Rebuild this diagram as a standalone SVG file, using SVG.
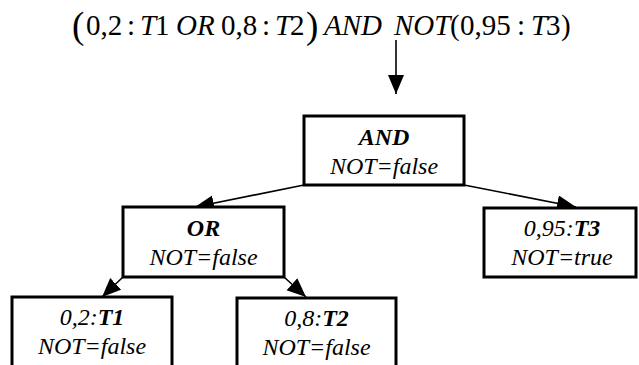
<svg xmlns="http://www.w3.org/2000/svg" width="639" height="365" viewBox="0 0 639 365">
<defs>
  <marker id="ah" markerUnits="userSpaceOnUse" markerWidth="20" markerHeight="18" refX="19" refY="8" orient="auto">
    <path d="M0,0 L19,8 L0,16 z" fill="#000"/>
  </marker>
</defs>
<rect width="639" height="365" fill="#fff"/>
<g id="formula" font-family="Liberation Serif" font-size="29" fill="#000">
  <text x="72" y="38" font-size="37">(</text>
  <text x="86" y="35">0,2</text>
  <text x="127" y="35">:</text>
  <text x="140" y="35" font-style="italic">T</text>
  <text x="155" y="35">1</text>
  <text x="176" y="35" font-style="italic">OR</text>
  <text x="221" y="35">0,8</text>
  <text x="262" y="35">:</text>
  <text x="275" y="35" font-style="italic">T</text>
  <text x="290" y="35">2</text>
  <text x="306" y="38" font-size="37">)</text>
  <text x="324" y="35" font-style="italic">AND</text>
  <text x="394" y="35" font-style="italic">NOT</text>
  <text x="450" y="35">(</text>
  <text x="460" y="35">0,95</text>
  <text x="517" y="35">:</text>
  <text x="531" y="35" font-style="italic">T</text>
  <text x="546" y="35">3</text>
  <text x="561" y="35">)</text>
</g>
<g id="connectors" stroke="#000" stroke-width="1.6" fill="none" marker-end="url(#ah)">
  <line x1="396" y1="40" x2="396" y2="94"/>
  <line x1="304" y1="185" x2="195" y2="207"/>
  <line x1="464" y1="185" x2="576" y2="207"/>
  <line x1="123" y1="277" x2="102" y2="297"/>
  <line x1="284" y1="277" x2="306" y2="297"/>
</g>
<g id="nodes" font-family="Liberation Serif" font-size="24" font-style="italic" text-anchor="middle">
<g id="node-and">
  <rect x="304" y="116" width="160" height="69" fill="#fff" stroke="#000" stroke-width="3"/>
  <text x="384" y="145" font-weight="bold">AND</text>
  <text x="384" y="174">NOT=false</text>
</g>
<g id="node-or">
  <rect x="123" y="207" width="161" height="70" fill="#fff" stroke="#000" stroke-width="3"/>
  <text x="203.5" y="236" font-weight="bold">OR</text>
  <text x="203.5" y="265">NOT=false</text>
</g>
<g id="node-t3">
  <rect x="484" y="208" width="152" height="69" fill="#fff" stroke="#000" stroke-width="3"/>
  <text x="562" y="236">0,95:<tspan font-weight="bold">T3</tspan></text>
  <text x="562" y="265">NOT=true</text>
</g>
<g id="node-t1">
  <rect x="12" y="297" width="160" height="70" fill="#fff" stroke="#000" stroke-width="3"/>
  <text x="92" y="325">0,2:<tspan font-weight="bold">T1</tspan></text>
  <text x="92" y="354">NOT=false</text>
</g>
<g id="node-t2">
  <rect x="237" y="298" width="159" height="70" fill="#fff" stroke="#000" stroke-width="3"/>
  <text x="316.5" y="326">0,8:<tspan font-weight="bold">T2</tspan></text>
  <text x="316.5" y="355">NOT=false</text>
</g>
</g>
</svg>
